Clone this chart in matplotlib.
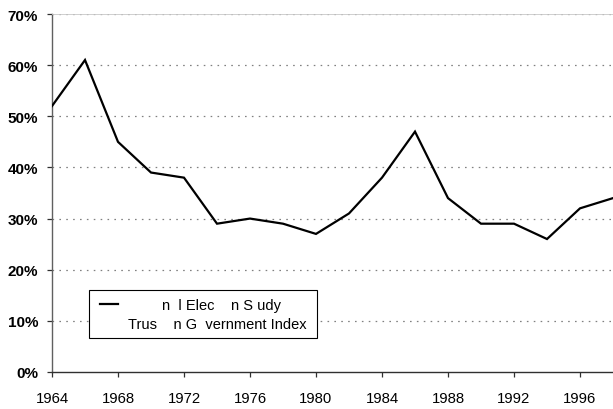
import matplotlib
matplotlib.use("Agg")
import matplotlib.pyplot as plt
from matplotlib.patches import Rectangle
from matplotlib.lines import Line2D

# Trust in government index, every two years
years = [1964, 1966, 1968, 1970, 1972, 1974, 1976, 1978, 1980,
         1982, 1984, 1986, 1988, 1990, 1992, 1994, 1996, 1998]
trust = [52, 61, 45, 39, 38, 29, 30, 29, 27,
         31, 38, 47, 34, 29, 29, 26, 32, 34]

x_ticks = [1964, 1968, 1972, 1976, 1980, 1984, 1988, 1992, 1996]
y_ticks = [0, 10, 20, 30, 40, 50, 60, 70]
y_labels = ['%d%%' % v for v in y_ticks]

legend_lines = ['n  l Elec    n S udy', 'Trus    n G  vernment Index']

plt.rcParams['font.family'] = ['Liberation Sans', 'DejaVu Sans']

fig = plt.figure(figsize=(6.13, 4.10), dpi=100)
ax = fig.add_axes([52/613, 1 - 373/410, 1 - 52/613, (373 - 15)/410])

ax.plot(years, trust, color='black', lw=1.6, solid_joinstyle='miter', zorder=3)

ax.set_xlim(1964, 1998)
ax.set_ylim(0, 70)
ax.set_xticks(x_ticks)
ax.set_xticklabels([str(t) for t in x_ticks], fontsize=10.7)
ax.set_yticks(y_ticks)
ax.set_yticklabels(y_labels, fontsize=11, fontweight='bold')

# dotted grid
for v in y_ticks[1:]:
    ax.axhline(v, color='#808080', lw=0.9, ls=(0, (1.3, 4.2)), zorder=1)

ax.spines['right'].set_visible(False)
ax.spines['top'].set_color('#c8c8c8')
ax.spines['top'].set_linewidth(0.6)
ax.spines['left'].set_color('#606060')
ax.spines['left'].set_linewidth(1.0)
ax.spines['bottom'].set_color('#303030')
ax.spines['bottom'].set_linewidth(1.0)
ax.tick_params(axis='both', direction='out', length=3.5, width=0.9, colors='#303030')
ax.tick_params(axis='y', pad=6.5, labelcolor='black')
ax.tick_params(axis='x', pad=10, labelcolor='black')

# legend box
x0, x1 = (89 - 52)/561, (317 - 52)/561
y0, y1 = (373 - 339)/358, (373 - 291)/358
ax.add_patch(Rectangle((x0, y0), x1 - x0, y1 - y0, transform=ax.transAxes,
                       facecolor='white', edgecolor='black', lw=0.8, zorder=4))
ax.add_line(Line2D([(100 - 52)/561, (118 - 52)/561], [(373 - 305)/358]*2,
                   transform=ax.transAxes, color='black', lw=1.6, zorder=5))
ax.text((222 - 52)/561, (373 - 306)/358, legend_lines[0], transform=ax.transAxes,
        ha='center', va='center', fontsize=10.5, zorder=5)
ax.text((217 - 52)/561, (373 - 325)/358, legend_lines[1], transform=ax.transAxes,
        ha='center', va='center', fontsize=10.5, zorder=5)

fig.savefig('out.png', dpi=100)
